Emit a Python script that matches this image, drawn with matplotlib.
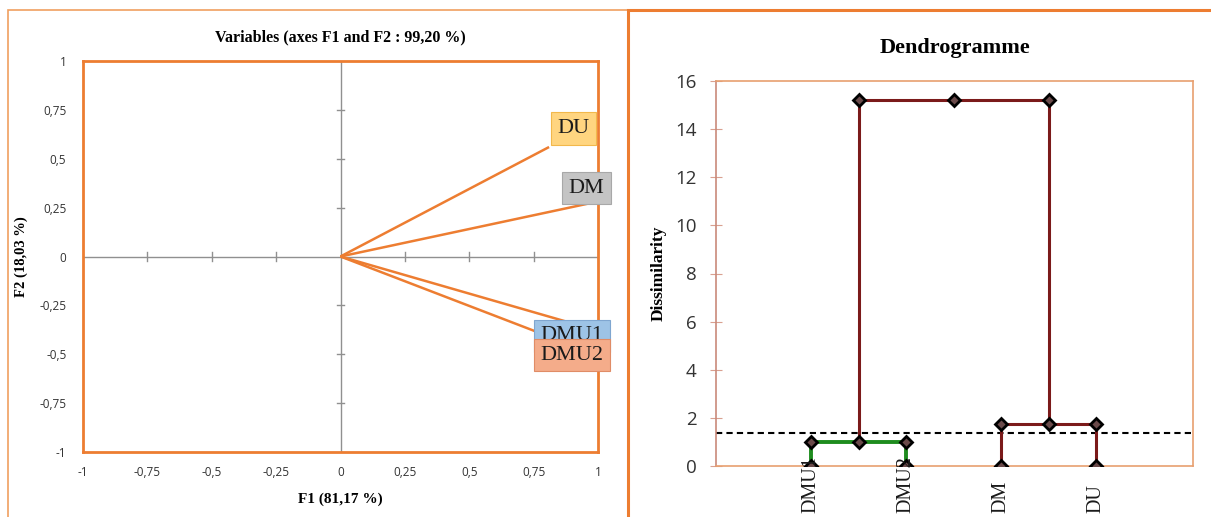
import matplotlib
matplotlib.use("Agg")
import matplotlib.pyplot as plt
from matplotlib.patches import Rectangle

# ---- Correlation circle data (F1, F2 coordinates of each variable) ----
var_names = ["DU", "DM", "DMU1", "DMU2"]
var_f1 = [0.81, 0.96, 0.935, 0.89]
var_f2 = [0.56, 0.27, -0.355, -0.45]
label_f1 = [0.905, 0.955, 0.90, 0.90]
label_f2 = [0.655, 0.35, -0.405, -0.505]
label_colors = ["#FFD580", "#C4C4C4", "#9DC3E6", "#F4AC8A"]
label_edges = ["#F2B84B", "#A8A8A8", "#7FA6D0", "#E08C66"]
axis_ticks = [-1, -0.75, -0.5, -0.25, 0, 0.25, 0.5, 0.75, 1]

# ---- Dendrogram data ----
leaf_names = ["DMU1", "DMU2", "DM", "DU"]
leaf_pos = [1, 2, 3, 4]
merge_low_a = 1.0     # DMU1 + DMU2
merge_low_b = 1.75    # DM + DU
merge_top = 15.2      # final merge
cut_level = 1.37
dendro_ticks = [0, 2, 4, 6, 8, 10, 12, 14, 16]

ORANGE = "#ED7D31"
DARKRED = "#7B1A1A"
GREEN = "#1E8C1E"

fig = plt.figure(figsize=(12.11, 5.17), dpi=100)
fig.patch.set_facecolor("white")

# outer frames of the two panels
fig.add_artist(Rectangle((8 / 1211, -0.05), (620 / 1211), 1 - 10 / 517 + 0.05,
                         transform=fig.transFigure, fill=False,
                         edgecolor="#F0A060", lw=1.2))
fig.add_artist(Rectangle((628 / 1211, -0.05), 0.6, 1 - 10 / 517 + 0.05,
                         transform=fig.transFigure, fill=False,
                         edgecolor=ORANGE, lw=2.2))

serif = "Liberation Serif"
sans = "Open Sans"


def fmt_comma(v):
    return ("%g" % v).replace(".", ",")


# ================= Left panel: variables =================
ax1 = fig.add_axes([83 / 1211, 1 - 452 / 517, 515 / 1211, 391 / 517])
ax1.set_xlim(-1, 1)
ax1.set_ylim(-1, 1)
for sp in ax1.spines.values():
    sp.set_color(ORANGE)
    sp.set_linewidth(2)
ax1.tick_params(length=0, labelsize=8.5, colors="#333333")
ax1.tick_params(axis="x", pad=10)
ax1.tick_params(axis="y", pad=12)
ax1.set_xticks(axis_ticks)
ax1.set_yticks(axis_ticks)
ax1.set_xticklabels([fmt_comma(t) for t in axis_ticks], fontfamily=sans)
ax1.set_yticklabels([fmt_comma(t) for t in axis_ticks], fontfamily=sans)

# central cross with small tick marks
ax1.axhline(0, color="#909090", lw=1, zorder=1)
ax1.axvline(0, color="#909090", lw=1, zorder=1)
for t in axis_ticks:
    if t in (-1, 0, 1):
        continue
    ax1.plot([t, t], [-0.025, 0.025], color="#909090", lw=1, zorder=1)
    ax1.plot([-0.012, 0.012], [t, t], color="#909090", lw=1, zorder=1)

for name, x, y, lx, ly, fc, ec in zip(var_names, var_f1, var_f2, label_f1,
                                      label_f2, label_colors, label_edges):
    ax1.plot([0, x], [0, y], color=ORANGE, lw=1.8, zorder=2,
             solid_capstyle="butt")
    ax1.text(lx, ly, name, ha="center", va="center", fontsize=16,
             fontfamily=serif, color="#1a1a1a", zorder=5, clip_on=False,
             bbox=dict(boxstyle="square,pad=0.3", fc=fc, ec=ec, lw=0.8))

ax1.set_xlabel("F1 (81,17 %)", fontfamily=serif, fontweight="bold",
               fontsize=11, labelpad=10)
ax1.set_ylabel("F2 (18,03 %)", fontfamily=serif, fontweight="bold",
               fontsize=10.5, labelpad=8)
ax1.set_title("Variables (axes F1 and F2 : 99,20 %)", fontfamily=serif,
              fontweight="bold", fontsize=11.5, pad=14)

# ================= Right panel: dendrogram =================
ax2 = fig.add_axes([716 / 1211, 1 - 466 / 517, 477 / 1211, 385 / 517])
ax2.set_xlim(0, 5.02)
ax2.set_ylim(0, 16)
for sp in ax2.spines.values():
    sp.set_color("#E8A070")
    sp.set_linewidth(1.2)
ax2.spines["left"].set_color("#C98A7A")
ax2.set_yticks(dendro_ticks)
ax2.set_yticklabels([str(t) for t in dendro_ticks], fontfamily=sans,
                    fontsize=13.5, color="#333333")
ax2.tick_params(axis="y", direction="inout", length=8, color="#D9A090",
                pad=10)
ax2.set_xticks([])

mid_a = (leaf_pos[0] + leaf_pos[1]) / 2
mid_b = (leaf_pos[2] + leaf_pos[3]) / 2
mid_top = (mid_a + mid_b) / 2

mk = dict(marker="D", markersize=6, markerfacecolor="#6a4a4a",
          markeredgecolor="black", markeredgewidth=2, zorder=4)

# green cluster
ax2.plot([leaf_pos[0], leaf_pos[0], leaf_pos[1], leaf_pos[1]],
         [0, merge_low_a, merge_low_a, 0], color=GREEN, lw=2.8, zorder=3)
# red cluster
ax2.plot([leaf_pos[2], leaf_pos[2], leaf_pos[3], leaf_pos[3]],
         [0, merge_low_b, merge_low_b, 0], color=DARKRED, lw=2.2, zorder=3)
# top link
ax2.plot([mid_a, mid_a, mid_b, mid_b],
         [merge_low_a, merge_top, merge_top, merge_low_b],
         color=DARKRED, lw=2.2, zorder=3)

# diamond markers
ax2.plot(leaf_pos, [0, 0, 0, 0], ls="none", **mk)
ax2.plot([leaf_pos[0], mid_a, leaf_pos[1]], [merge_low_a] * 3, ls="none", **mk)
ax2.plot([leaf_pos[2], mid_b, leaf_pos[3]], [merge_low_b] * 3, ls="none", **mk)
ax2.plot([mid_a, mid_top, mid_b], [merge_top] * 3, ls="none", **mk)

# truncation level
ax2.axhline(cut_level, color="black", lw=1.5, ls=(0, (3, 2)), zorder=2)

# leaf labels
for x, name in zip(leaf_pos, leaf_names):
    ax2.text(x, -1.95, name, rotation=90, ha="center", va="bottom",
             fontsize=14.5, fontfamily=serif, color="#1a1a1a", clip_on=False,
             zorder=5)

ax2.set_ylabel("Dissimilarity", fontfamily=serif, fontweight="bold",
               fontsize=12.5, labelpad=6)
ax2.set_title("Dendrogramme", fontfamily=serif, fontweight="bold",
              fontsize=16, pad=20)

fig.savefig("out.png", dpi=100, facecolor="white")
